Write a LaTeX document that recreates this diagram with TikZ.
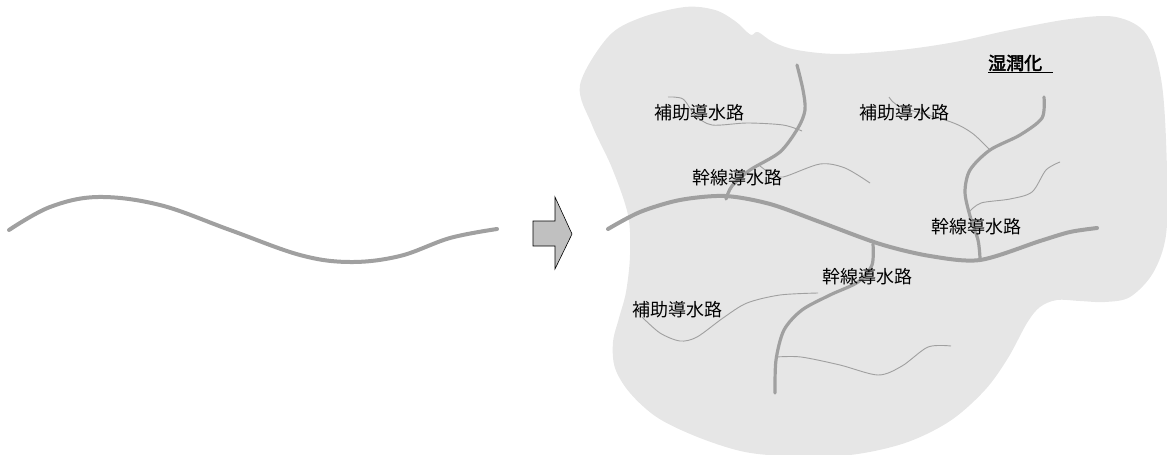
\documentclass[tikz,border=0pt]{standalone}
\usepackage{fontspec}
\newfontfamily\jpfont{Noto Sans CJK JP}
\newfontfamily\jpbold[FakeBold=2.5]{Noto Sans CJK JP}
\definecolor{blobgray}{HTML}{E6E6E6}
\definecolor{rivergray}{HTML}{A0A0A0}
\definecolor{arrowgray}{HTML}{C0C0C0}
\begin{document}
\begin{tikzpicture}[x=1pt,y=-1pt,
  river/.style={draw=rivergray,line width=4pt,line cap=round},
  brook/.style={draw=rivergray,line width=0.9pt},
  lbl/.style={font=\jpfont\fontsize{18}{20}\selectfont,inner sep=0pt,text=black}]
\useasboundingbox (0,0) rectangle (1167,455);
% wetland area
\fill[blobgray] plot[smooth cycle,tension=0.55] coordinates {
 (580,85) (608,37) (640,18) (685,7) (715,10) (735,21) (747,32) (752,35) (758,32) (773,42)
 (797,50) (839,54) (900,50) (955,42) (1010,30) (1070,19) (1116,17) (1147,35) (1162,85)
 (1167,170) (1166,235) (1153,273) (1130,297) (1105,302) (1080,301) (1057,300) (1040,307)
 (1027,323) (1008,358) (985,390) (950,421) (905,443) (850,455) (790,456) (745,452)
 (700,438) (658,418) (630,393) (615,368) (613,342) (619,318) (626,292) (630,255)
 (628,215) (612,168) (592,125)};
% left river
\draw[river] plot[smooth,tension=0.6] coordinates {(9,230) (50,207) (98,197) (160,205) (230,230) (300,255) (350,262) (400,256) (450,238) (497,229)};
% arrow
\filldraw[fill=arrowgray,draw=black,line width=0.6pt,line join=miter]
 (533,221) -- (555,221) -- (555,197) -- (572,234) -- (555,269) -- (555,246) -- (533,246) -- cycle;
% thin brooks
\draw[brook] plot[smooth] coordinates {(668,97) (683,99) (695,115) (712,125) (747,123) (783,125) (802,131)};
\draw[brook] plot[smooth] coordinates {(760,166) (770,173) (783,177) (820,164) (845,168) (870,183)};
\draw[brook] plot[smooth] coordinates {(889,97) (901,107) (951,122) (972,133) (989,149)};
\draw[brook] plot[smooth] coordinates {(969,212) (981,203) (1010,199) (1032,192) (1046,170) (1060,162)};
\draw[brook] plot[smooth] coordinates {(818,293) (780,295) (747,303) (723,318) (697,337) (680,341) (660,333) (642,317)};
\draw[brook] plot[smooth] coordinates {(776,357) (801,357) (840,365) (878,375) (902,366) (928,347) (951,346)};
% trunk and branches
\draw[river] plot[smooth] coordinates {(608,229) (640,212) (680,200) (725,196) (770,204) (820,222) (880,244) (930,256) (980,260) (1040,241) (1070,232) (1097,228)};
\draw[river,line width=3.2pt] plot[smooth] coordinates {(797,65) (803,90) (805,110) (798,128) (780,152) (750,170) (732,186) (726,199)};
\draw[river,line width=3.2pt] plot[smooth] coordinates {(1044,97) (1042,118) (1020,135) (990,150) (970,170) (965,192) (970,216) (978,240) (980,258)};
\draw[river,line width=3.2pt] plot[smooth] coordinates {(873,244) (872,265) (858,282) (830,295) (802,310) (784,330) (776,360) (775,393)};
% labels
\node[lbl] (h1) at (699,113) {補助導水路};
\node[lbl] (h2) at (904,113) {補助導水路};
\node[lbl] (h3) at (677,310) {補助導水路};
\node[lbl] (k1) at (737,178) {幹線導水路};
\node[lbl] (k2) at (976,227) {幹線導水路};
\node[lbl] (k3) at (867,277) {幹線導水路};
\node[lbl,font=\jpbold\fontsize{18}{20}\selectfont,anchor=west] (w) at (988,63) {湿潤化};
\draw[black,line width=0.8pt] ([yshift=-1pt]w.south west) -- ++(65,0);
\end{tikzpicture}
\end{document}
